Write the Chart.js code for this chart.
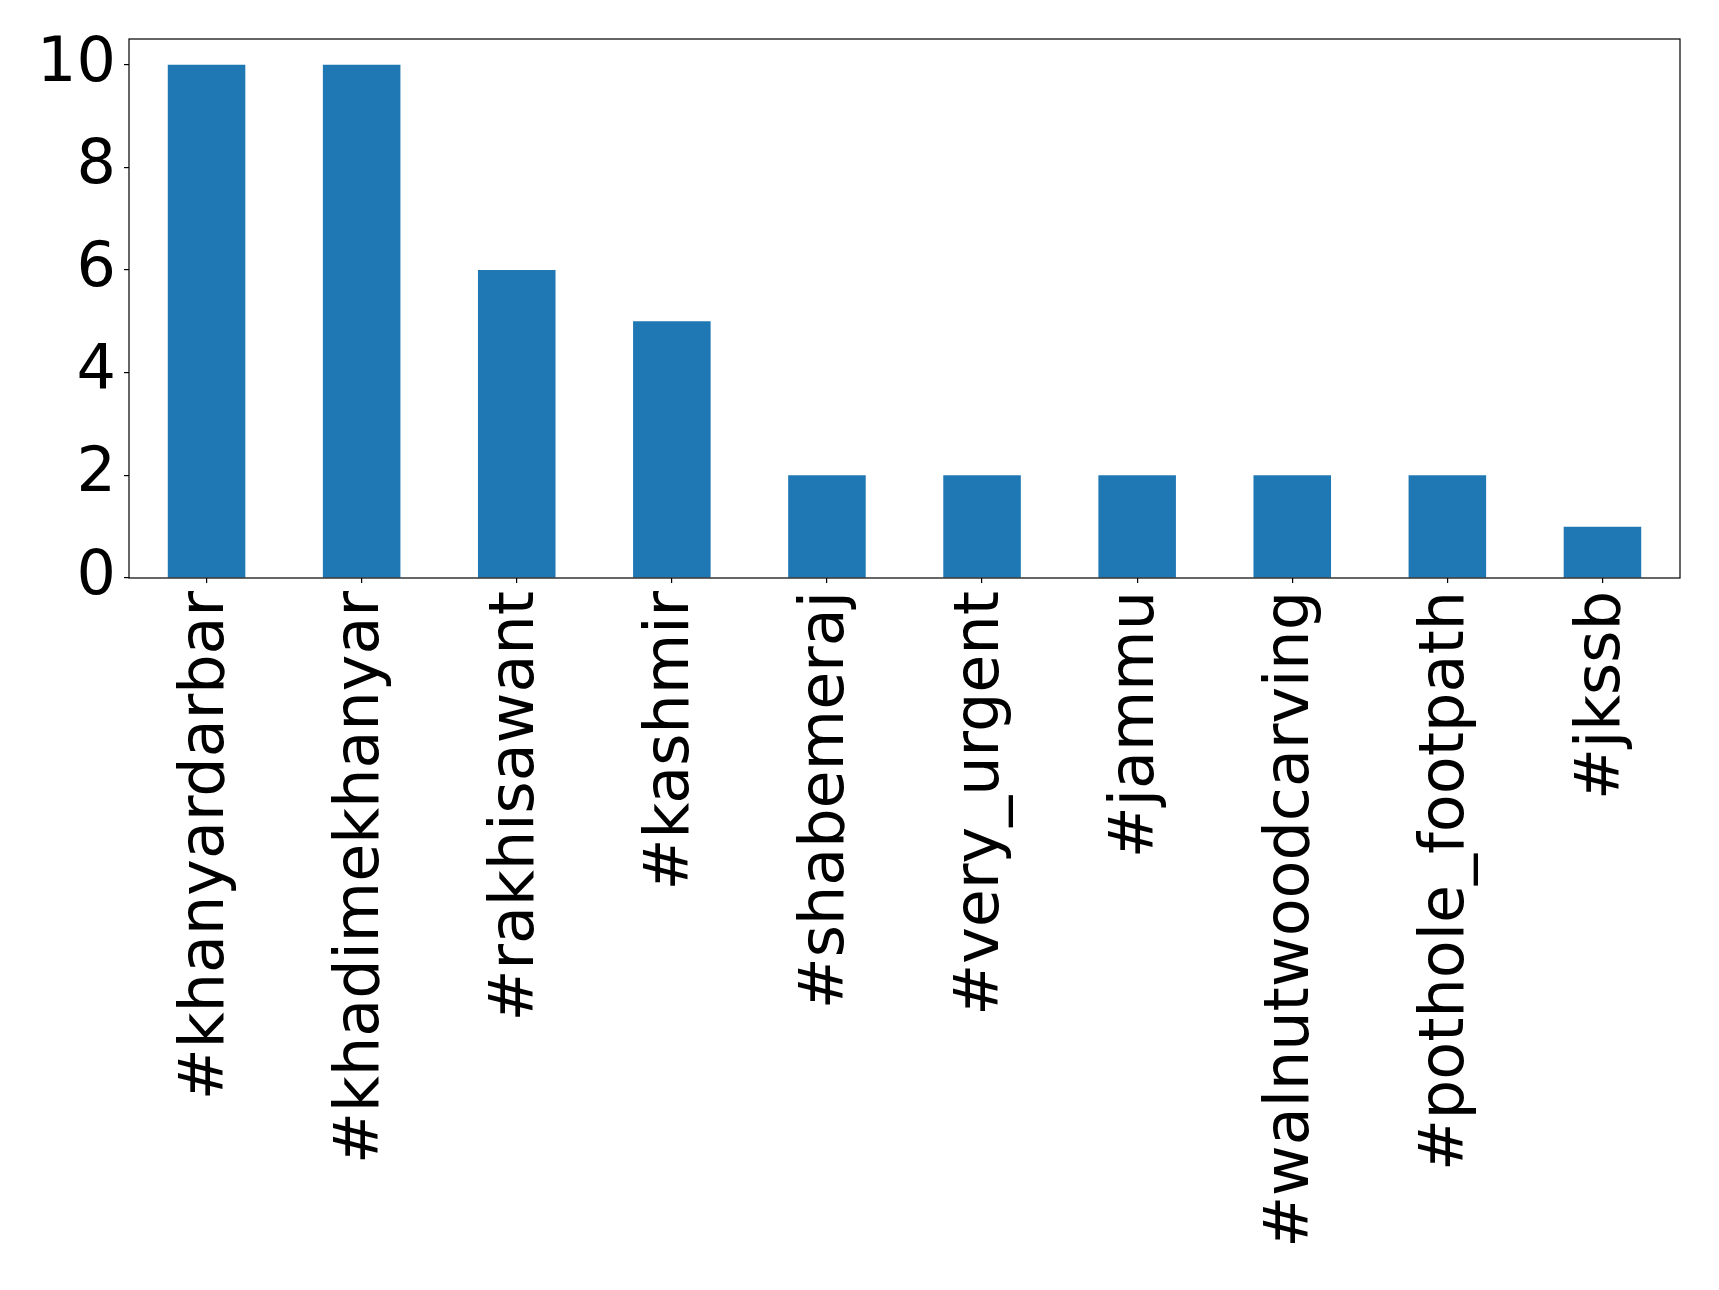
<!DOCTYPE html>
<html>
<head>
<meta charset="utf-8">
<script src="https://cdn.jsdelivr.net/npm/chart.js@4/dist/chart.umd.min.js"></script>
<style>
  body { margin: 0; background: #fff; }
  #wrap { width: 1719px; height: 1290px; }
</style>
</head>
<body>
<div id="wrap"><canvas id="myChart" width="1719" height="1290"></canvas></div>
<script>
const hashtags = ["#khanyardarbar", "#khadimekhanyar", "#rakhisawant", "#kashmir", "#shabemeraj", "#very_urgent", "#jammu", "#walnutwoodcarving", "#pothole_footpath", "#jkssb"];
const counts = [10, 10, 6, 5, 2, 2, 2, 2, 2, 1];
const yTicks = [0, 2, 4, 6, 8, 10];

// box round the plot, like a matplotlib axes frame
const frame = {
  id: "frame",
  afterDraw(chart) {
    const a = chart.chartArea;
    const ctx = chart.ctx;
    ctx.save();
    ctx.strokeStyle = "#000";
    ctx.lineWidth = 1.2;
    ctx.strokeRect(a.left, a.top, a.right - a.left, a.bottom - a.top);
    ctx.restore();
  },
};

Chart.defaults.font.family = "'DejaVu Sans', sans-serif";
Chart.defaults.color = "#000";

const ctx = document.getElementById("myChart").getContext("2d");
const myChart = new Chart(ctx, {
  type: "bar",
  data: {
    labels: hashtags,
    datasets: [
      {
        data: counts,
        backgroundColor: "#1f77b4",
        barPercentage: 0.5,
        categoryPercentage: 1.0,
      },
    ],
  },
  options: {
    responsive: false,
    animation: false,
    devicePixelRatio: 1,
    layout: { padding: { top: 39, right: 39, left: 0, bottom: 0 } },
    plugins: { legend: { display: false }, tooltip: { enabled: false } },
    scales: {
      x: {
        grid: { display: true, drawOnChartArea: false, drawTicks: true, tickLength: 5, offset: false, color: "#000", lineWidth: 1.2 },
        border: { display: false },
        ticks: { autoSkip: false, maxRotation: 90, minRotation: 90, padding: 8, font: { size: 62 } },
        afterFit(scale) {
          scale.height = 712;
        },
      },
      y: {
        min: 0,
        max: 10.5,
        grid: { display: true, drawOnChartArea: false, drawTicks: true, tickLength: 5, color: "#000", lineWidth: 1.2 },
        border: { display: false },
        ticks: { padding: 8, font: { size: 62, lineHeight: 1 } },
        afterBuildTicks(axis) {
          axis.ticks = yTicks.map((v) => ({ value: v }));
        },
        afterFit(scale) {
          scale.width = 129;
        },
      },
    },
  },
  plugins: [frame],
});
</script>
</body>
</html>
